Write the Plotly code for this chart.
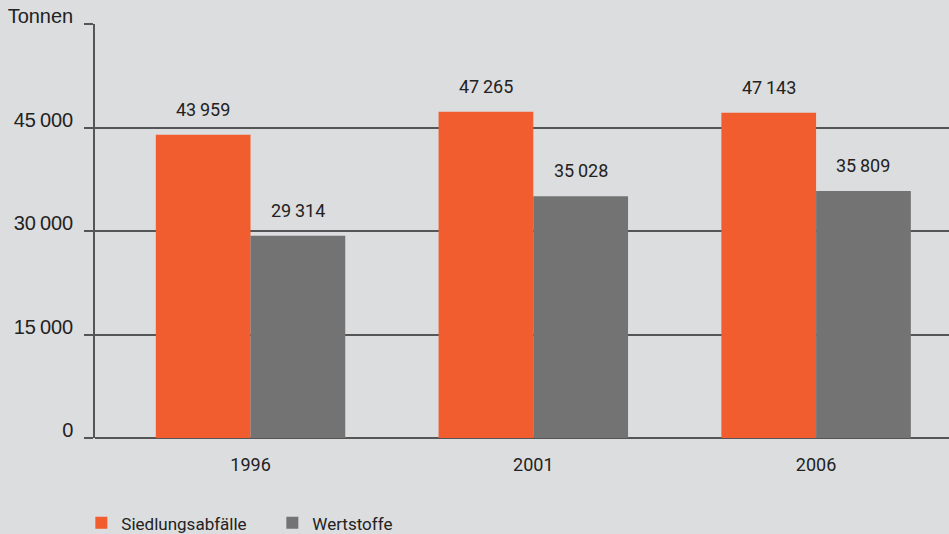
import plotly.graph_objects as go

years = ["1996", "2001", "2006"]
siedlung = [43959, 47265, 47143]
wertstoffe = [29314, 35028, 35809]
series_names = ["Siedlungsabfälle", "Wertstoffe"]
y_tickvals = [0, 15000, 30000, 45000, 60000]
y_ticktext = ["0", "15\u2009000", "30\u2009000", "45\u2009000", "Tonnen"]

ORANGE = "#f15d2f"
GRAY = "#737373"
BG = "#dcdddf"
LINE = "#555555"
TXT = "#222222"

def fmt(v):
    return f"{v:,}".replace(",", "\u2009")

fig = go.Figure()
fig.add_trace(go.Bar(x=years, y=siedlung, name=series_names[0], marker_color=ORANGE,
                     marker_line_width=0))
fig.add_trace(go.Bar(x=years, y=wertstoffe, name=series_names[1], marker_color=GRAY,
                     marker_line_width=0))

bargap = 0.33
half = (1 - bargap) / 4  # half width of one bar in category units
for vals, sign in ((siedlung, -1), (wertstoffe, 1)):
    for i, (yr, v) in enumerate(zip(years, vals)):
        fig.add_annotation(x=i + sign * half, y=v, text=fmt(v), showarrow=False,
                           xref="x", yref="y", yanchor="bottom", yshift=13,
                           font=dict(family="Roboto", size=18, color=TXT))

fig.update_layout(
    width=949, height=534,
    margin=dict(l=95, r=0, t=24, b=96, autoexpand=False),
    paper_bgcolor=BG, plot_bgcolor=BG,
    barmode="group", bargap=bargap, bargroupgap=0,
    showlegend=True,
    legend=dict(orientation="h", x=-0.016, xanchor="left",
                yref="container", y=0.02, yanchor="middle",
                font=dict(family="Roboto", size=17, color=TXT),
                itemwidth=30,
                entrywidthmode="pixels", entrywidth=146, bgcolor="rgba(0,0,0,0)"),
    xaxis=dict(type="category", range=[-0.55, 2.47], showgrid=False, showline=False,
               zeroline=False, ticks="", ticklabelstandoff=14,
               tickfont=dict(family="Roboto", size=18, color=TXT)),
    yaxis=dict(range=[0, 60000], tickvals=y_tickvals, ticktext=y_ticktext,
               showgrid=True, gridcolor=LINE, gridwidth=1.5,
               zeroline=True, zerolinecolor=LINE, zerolinewidth=2,
               showline=True, linecolor=LINE, linewidth=1.5,
               ticks="outside", ticklen=9, tickcolor=LINE, tickwidth=1.5,
               ticklabelstandoff=7, ticklabelshift=-8,
               tickfont=dict(family="Liberation Sans", size=20, color=TXT)),
)

fig.write_html("out.html")
